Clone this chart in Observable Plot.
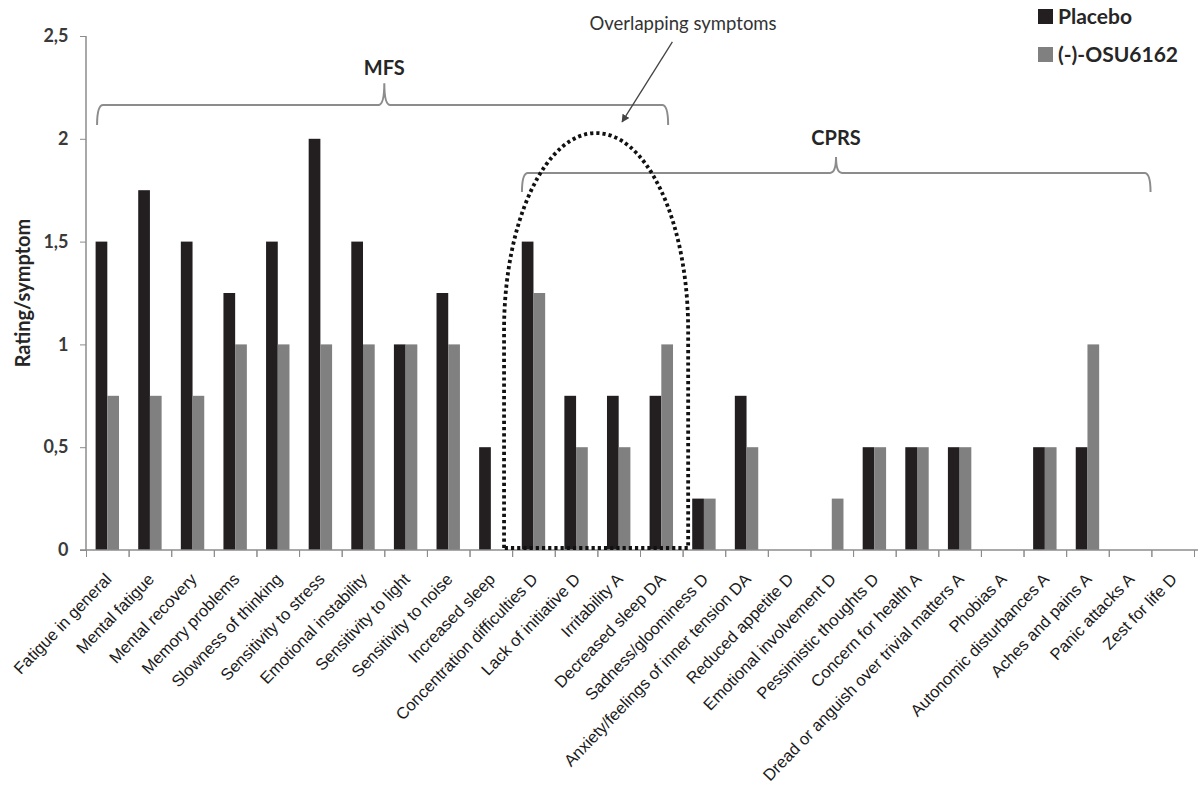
<!DOCTYPE html>
<html><head><meta charset="utf-8">
<script src="https://cdn.jsdelivr.net/npm/d3@7"></script>
<script src="https://cdn.jsdelivr.net/npm/@observablehq/plot@0.6"></script>
<style>
body{margin:0;background:#fff}
#chart{width:1198px;height:785px}
</style>
</head><body><div id="chart"></div>
<script>
const categories = [
  "Fatigue in general","Mental fatigue","Mental recovery","Memory problems","Slowness of thinking",
  "Sensitivity to stress","Emotional instability","Sensitivity to light","Sensitivity to noise","Increased sleep",
  "Concentration difficulties D","Lack of initiative D","Irritability A","Decreased sleep DA","Sadness/gloominess D",
  "Anxiety/feelings of inner tension DA","Reduced appetite D","Emotional involvement D","Pessimistic thoughts D",
  "Concern for health A","Dread or anguish over trivial matters A","Phobias A","Autonomic disturbances A",
  "Aches and pains A","Panic attacks A","Zest for life D"
];
const placebo = [1.5,1.75,1.5,1.25,1.5,2,1.5,1,1.25,0.5,1.5,0.75,0.75,0.75,0.25,0.75,0,0,0.5,0.5,0.5,0,0.5,0.5,0,0];
const osu     = [0.75,0.75,0.75,1,1,1,1,1,1,0,1.25,0.5,0.5,1,0.25,0.5,0,0.25,0.5,0.5,0.5,0,0.5,1,0,0];
const seriesNames = ["Placebo","(-)-OSU6162"];
const seriesColors = ["#231f20","#808080"];
const yTicks = [0,0.5,1,1.5,2,2.5];

const data = categories.flatMap((c,i)=>[
  {category:c, series:seriesNames[0], value:placebo[i]},
  {category:c, series:seriesNames[1], value:osu[i]}
]);

const W = 1198, H = 785, ML = 86, MR = 4, MT = 36, MB = 235;
const step = (W - ML - MR) / categories.length;

const chart = Plot.plot({
  width: W, height: H, marginTop: MT, marginBottom: MB, marginLeft: ML, marginRight: MR,
  style: {background:"#fff", fontFamily:"Lato, sans-serif"},
  fx: {domain: categories, padding: 0, round: false, label: null},
  x: {domain: seriesNames, paddingInner: 0, paddingOuter: 0.82, round: false, axis: null},
  y: {domain: [0, 2.5], label: null},
  color: {domain: seriesNames, range: seriesColors},
  marks: [
    Plot.barY(data, {fx:"category", x:"series", y:"value", fill:"series"}),
    Plot.axisY({ticks: yTicks, tickFormat: d => String(d).replace(".", ","), tickSize: 6, tickPadding: 12,
      label: null, fontSize: 18, fontWeight: "bold", fontFamily: "Lato, sans-serif", stroke: "#8c8c8c", fill: "#3a3a3a"}),
    Plot.axisFx({anchor: "bottom", tickSize: 0, tickRotate: -46, tickPadding: 26, dx: 1, label: null,
      fontSize: 16.5, fontFamily: "'Liberation Sans', Arial, sans-serif", fill: "#1a1a1a"}),
    Plot.axisFx({anchor: "bottom", tickSize: 7, tickFormat: () => "", dx: -step/2, label: null, stroke: "#8c8c8c"}),
    Plot.axisFx({anchor: "bottom", tickSize: 7, tickFormat: () => "", dx: step/2, label: null, stroke: "#8c8c8c"})
  ]
});
document.getElementById("chart").appendChild(chart);

// overlay annotations positioned through the chart's own scales
const fx = chart.scale("fx"), ys = chart.scale("y");
const bw = fx.bandwidth;
const X = (cat, frac) => fx.apply(cat) + frac * bw;
const Y = v => ys.apply(v);
const svg = d3.select(chart);
const g = svg.append("g").attr("text-anchor", "start");

// axis lines
const x0 = X(categories[0], 0);
g.append("line").attr("x1", x0).attr("x2", x0).attr("y1", Y(2.5)).attr("y2", Y(0))
  .attr("stroke", "#8c8c8c").attr("stroke-width", 1.5);
g.append("line").attr("x1", x0 - 6).attr("x2", W).attr("y1", Y(0)).attr("y2", Y(0))
  .attr("stroke", "#8c8c8c").attr("stroke-width", 1.5);

function brace(xa, xb, xm, yLine, yTip, yEnd) {
  const r = 6;
  const p = d3.path();
  p.moveTo(xa, yEnd);
  p.quadraticCurveTo(xa, yLine, xa + r, yLine);
  p.lineTo(xm - r, yLine);
  p.quadraticCurveTo(xm, yLine, xm, yTip);
  p.quadraticCurveTo(xm, yLine, xm + r, yLine);
  p.lineTo(xb - r, yLine);
  p.quadraticCurveTo(xb, yLine, xb, yEnd);
  g.append("path").attr("d", p.toString()).attr("fill", "none")
    .attr("stroke", "#8c8c8c").attr("stroke-width", 2);
}

// MFS brace
const mfsMid = X("Sensitivity to light", 0.0);
brace(X("Fatigue in general", 0.26), X("Decreased sleep DA", 0.66), mfsMid, Y(2.164), Y(2.27), Y(2.067));
g.append("text").attr("x", mfsMid).attr("y", Y(2.31)).attr("text-anchor", "middle")
  .attr("font-family", "Lato, sans-serif").attr("font-weight", "bold").attr("font-size", 20)
  .attr("fill", "#262626").text("MFS");

// CPRS brace
const cprsMid = X("Emotional involvement D", 0.6);
brace(X("Concentration difficulties D", 0.23), X("Panic attacks A", 0.98), cprsMid, Y(1.834), Y(1.911), Y(1.741));
g.append("text").attr("x", cprsMid).attr("y", Y(1.97)).attr("text-anchor", "middle")
  .attr("font-family", "Lato, sans-serif").attr("font-weight", "bold").attr("font-size", 20)
  .attr("fill", "#262626").text("CPRS");

// dotted "overlap" outline
{
  const xL = X("Increased sleep", 0.81), xR = X("Sadness/gloominess D", 0.13);
  const yTop = Y(2.028), ySide = Y(1.07), yB = Y(0) - 2;
  const rx = (xR - xL) / 2, ry = ySide - yTop;
  const d = `M${xL},${yB} L${xL},${ySide} A${rx},${ry} 0 0 1 ${xR},${ySide} L${xR},${yB} Z`;
  g.append("path").attr("d", d).attr("fill", "none").attr("stroke", "#111")
    .attr("stroke-width", 3.8).attr("stroke-dasharray", "3.2 3");
}

// arrow + label
svg.append("defs").append("marker").attr("id", "arrowhead").attr("viewBox", "0 0 10 10")
  .attr("refX", 9).attr("refY", 5).attr("markerWidth", 8).attr("markerHeight", 8)
  .attr("orient", "auto-start-reverse").attr("markerUnits", "userSpaceOnUse")
  .append("path").attr("d", "M0,0 L10,5 L0,10 z").attr("fill", "#444");
g.append("line")
  .attr("x1", X("Decreased sleep DA", 0.76)).attr("y1", Y(2.471))
  .attr("x2", X("Irritability A", 0.58)).attr("y2", Y(2.082))
  .attr("stroke", "#444").attr("stroke-width", 1.3).attr("marker-end", "url(#arrowhead)");
g.append("text").attr("x", X("Sadness/gloominess D", 0.01)).attr("y", Y(2.529)).attr("text-anchor", "middle")
  .attr("font-family", "Lato, sans-serif").attr("font-size", 18.5).attr("fill", "#333")
  .text("Overlapping symptoms");

// y label
g.append("text").attr("transform", `translate(30,${(Y(0) + Y(2.5)) / 2}) rotate(-90)`)
  .attr("text-anchor", "middle").attr("font-family", "Lato, sans-serif").attr("font-weight", "bold")
  .attr("font-size", 20).attr("fill", "#262626").text("Rating/symptom");

// legend
const lg = g.append("g");
seriesNames.forEach((s, i) => {
  lg.append("rect").attr("x", 1038).attr("y", 9 + i * 38).attr("width", 15).attr("height", 15).attr("fill", seriesColors[i]);
  lg.append("text").attr("x", 1058).attr("y", 24 + i * 38).attr("text-anchor", "start")
    .attr("font-family", "Lato, sans-serif").attr("font-weight", "bold").attr("font-size", 21)
    .attr("fill", "#262626").text(s);
});
</script>
</body></html>
